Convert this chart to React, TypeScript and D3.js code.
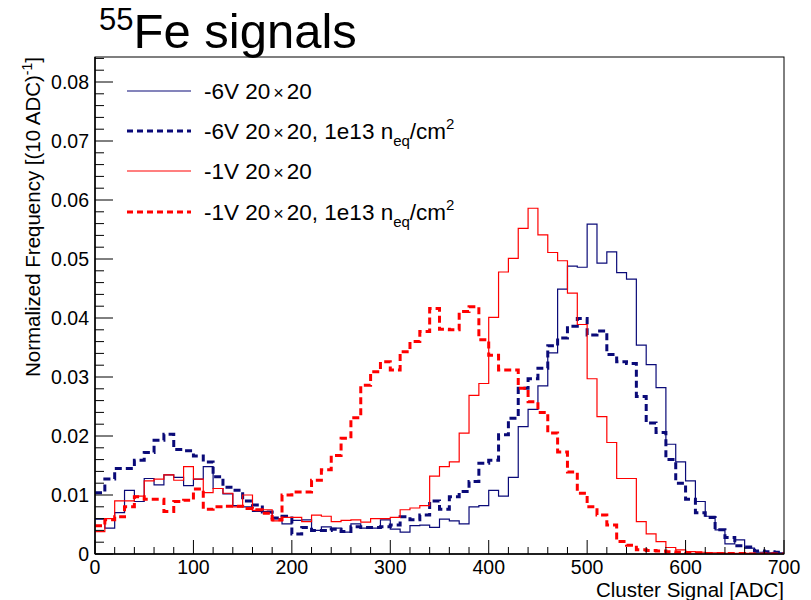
import React from "react";
import * as d3 from "d3";

// Bin lower edges (ADC), 10 ADC bins from 0 to 700
const binWidth = 10;
const binStarts = d3.range(0, 700, binWidth);

// -6V 20x20 (solid navy)
const s6V = [
  0.0059, 0.0044, 0.0070, 0.0108, 0.0089, 0.0128, 0.0117, 0.0134, 0.0130, 0.0116,
  0.0127, 0.0148, 0.0111, 0.0102, 0.0082, 0.0080, 0.0072, 0.0072, 0.0060, 0.0051,
  0.0057, 0.0058, 0.0040, 0.0046, 0.0044, 0.0037, 0.0051, 0.0044, 0.0044, 0.0058,
  0.0042, 0.0037, 0.0048, 0.0049, 0.0045, 0.0059, 0.0056, 0.0051, 0.0080, 0.0082,
  0.0108, 0.0098, 0.0130, 0.0216, 0.0245, 0.0285, 0.0341, 0.0449, 0.0488, 0.0486,
  0.0559, 0.0493, 0.0512, 0.0477, 0.0466, 0.0354, 0.0321, 0.0282, 0.0186, 0.0156,
  0.0124, 0.0089, 0.0064, 0.0041, 0.0017, 0.0024, 0.0010, 0.0003, 0.0002, 0.0002,
];

// -6V 20x20, 1e13 neq/cm2 (dashed navy)
const d6V = [
  0.0104, 0.0127, 0.0145, 0.0145, 0.0159, 0.0172, 0.0193, 0.0203, 0.0177, 0.0175,
  0.0166, 0.0156, 0.0131, 0.0113, 0.0108, 0.0090, 0.0083, 0.0071, 0.0061, 0.0064,
  0.0034, 0.0045, 0.0040, 0.0040, 0.0042, 0.0038, 0.0046, 0.0045, 0.0045, 0.0046,
  0.0049, 0.0063, 0.0058, 0.0066, 0.0090, 0.0076, 0.0097, 0.0106, 0.0123, 0.0154,
  0.0159, 0.0202, 0.0230, 0.0281, 0.0297, 0.0315, 0.0353, 0.0366, 0.0386, 0.0399,
  0.0371, 0.0378, 0.0338, 0.0326, 0.0323, 0.0267, 0.0222, 0.0206, 0.0160, 0.0120,
  0.0093, 0.0070, 0.0062, 0.0041, 0.0028, 0.0014, 0.0012, 0.0005, 0.0004, 0.0003,
];

// -1V 20x20 (solid red)
const s1V = [
  0.0038, 0.0060, 0.0090, 0.0090, 0.0098, 0.0124, 0.0127, 0.0134, 0.0125, 0.0148,
  0.0127, 0.0104, 0.0111, 0.0103, 0.0080, 0.0100, 0.0074, 0.0075, 0.0056, 0.0062,
  0.0062, 0.0055, 0.0066, 0.0064, 0.0055, 0.0057, 0.0058, 0.0054, 0.0060, 0.0060,
  0.0062, 0.0075, 0.0078, 0.0082, 0.0132, 0.0148, 0.0156, 0.0205, 0.0269, 0.0289,
  0.0401, 0.0478, 0.0501, 0.0552, 0.0586, 0.0541, 0.0511, 0.0497, 0.0442, 0.0389,
  0.0297, 0.0233, 0.0189, 0.0128, 0.0128, 0.0055, 0.0034, 0.0021, 0.0011, 0.0007,
  0.0004, 0.0003, 0.0002, 0.0002, 0.0001, 0.0001, 0.0001, 0.0000, 0.0001, 0.0000,
];

// -1V 20x20, 1e13 neq/cm2 (dashed red)
const d1V = [
  0.0048, 0.0058, 0.0063, 0.0080, 0.0097, 0.0093, 0.0093, 0.0072, 0.0089, 0.0091,
  0.0110, 0.0076, 0.0080, 0.0081, 0.0081, 0.0077, 0.0075, 0.0069, 0.0058, 0.0100,
  0.0105, 0.0105, 0.0125, 0.0143, 0.0167, 0.0196, 0.0231, 0.0286, 0.0309, 0.0326,
  0.0312, 0.0343, 0.0360, 0.0377, 0.0416, 0.0381, 0.0380, 0.0411, 0.0419, 0.0363,
  0.0337, 0.0312, 0.0312, 0.0281, 0.0258, 0.0240, 0.0205, 0.0173, 0.0139, 0.0103,
  0.0080, 0.0066, 0.0049, 0.0021, 0.0015, 0.0007, 0.0006, 0.0005, 0.0004, 0.0003,
  0.0002, 0.0002, 0.0001, 0.0001, 0.0001, 0.0001, 0.0000, 0.0000, 0.0000, 0.0000,
];

const xTickValues = [0, 100, 200, 300, 400, 500, 600, 700];
const xTickLabels = ["0", "100", "200", "300", "400", "500", "600", "700"];
const yTickValues = [0, 0.01, 0.02, 0.03, 0.04, 0.05, 0.06, 0.07, 0.08];
const yTickLabels = ["0", "0.01", "0.02", "0.03", "0.04", "0.05", "0.06", "0.07", "0.08"];

const NAVY = "#0a0a78";
const RED = "#ff0000";
const FONT = "'Liberation Sans', Arial, Helvetica, sans-serif";

const W = 811;
const H = 600;
const L = 95;
const R = 784;
const T = 57;
const B = 554;

export default function App() {
  const x = d3.scaleLinear().domain([0, 700]).range([L, R]);
  const y = d3.scaleLinear().domain([0, (B - T) / 5900]).range([B, T]);

  const line = d3
    .line<[number, number]>()
    .x((d) => x(d[0]))
    .y((d) => y(d[1]))
    .curve(d3.curveStepAfter);

  const pathFor = (vals: number[]) => {
    const pts: [number, number][] = binStarts.map((b, i) => [b, vals[i]]);
    pts.push([700, vals[vals.length - 1]]);
    return line(pts) || "";
  };

  const xMinor = d3.range(0, 701, 20).filter((v) => v % 100 !== 0);
  const yMinor = d3
    .range(0, 0.0842, 0.002)
    .filter((v) => Math.abs(v * 100 - Math.round(v * 100)) > 1e-6);

  const series = [
    { vals: s6V, color: NAVY, width: 1.2, dash: undefined as string | undefined },
    { vals: d6V, color: NAVY, width: 3, dash: "7 4" },
    { vals: s1V, color: RED, width: 1.2, dash: undefined as string | undefined },
    { vals: d1V, color: RED, width: 3, dash: "7 4" },
  ];

  const legend = [
    { color: NAVY, width: 1.2, dash: undefined as string | undefined, label: "-6V", irr: false, ly: 91 },
    { color: NAVY, width: 3, dash: "6 4", label: "-6V", irr: true, ly: 131 },
    { color: RED, width: 1.2, dash: undefined as string | undefined, label: "-1V", irr: false, ly: 171 },
    { color: RED, width: 3, dash: "6 4", label: "-1V", irr: true, ly: 212 },
  ];

  return (
    <svg
      width={W}
      height={H}
      style={{ position: "absolute", left: 0, top: 0, background: "#fff" }}
      fontFamily={FONT}
    >
      <rect x={0} y={0} width={W} height={H} fill="#fff" />
      <defs>
        <clipPath id="clipFrame">
          <rect x={L} y={T - 2} width={R - L} height={B - T + 2} />
        </clipPath>
      </defs>

      {/* Title */}
      <text x={99} y={48} fontSize={49} fill="#000">
        <tspan fontSize={31} dy={-18}>55</tspan>
        <tspan dy={18}>Fe signals</tspan>
      </text>

      {/* Frame */}
      <rect x={L} y={T} width={R - L} height={B - T} fill="none" stroke="#000" strokeWidth={1} />

      {/* Histograms */}
      <g clipPath="url(#clipFrame)">
        {series.map((s, i) => (
          <path
            key={i}
            d={pathFor(s.vals)}
            fill="none"
            stroke={s.color}
            strokeWidth={s.width}
            strokeDasharray={s.dash}
          />
        ))}
      </g>

      {/* Axes lines */}
      <line x1={L} y1={B} x2={R} y2={B} stroke="#000" strokeWidth={1.5} />
      <line x1={L} y1={T} x2={L} y2={B} stroke="#000" strokeWidth={1.5} />

      {/* X ticks */}
      {xTickValues.map((v) => (
        <line key={"xt" + v} x1={x(v)} x2={x(v)} y1={B} y2={B - 14} stroke="#000" strokeWidth={1} />
      ))}
      {xMinor.map((v) => (
        <line key={"xm" + v} x1={x(v)} x2={x(v)} y1={B} y2={B - 7} stroke="#000" strokeWidth={1} />
      ))}
      {xTickValues.map((v, i) => (
        <text key={"xl" + v} x={x(v)} y={574} fontSize={19.5} textAnchor="middle" fill="#000">
          {xTickLabels[i]}
        </text>
      ))}

      {/* Y ticks */}
      {yTickValues.map((v) => (
        <line key={"yt" + v} x1={L} x2={L + 18} y1={y(v)} y2={y(v)} stroke="#000" strokeWidth={1} />
      ))}
      {yMinor.map((v) => (
        <line key={"ym" + v} x1={L} x2={L + 9} y1={y(v)} y2={y(v)} stroke="#000" strokeWidth={1} />
      ))}
      {yTickValues.map((v, i) => (
        <text key={"yl" + v} x={89} y={y(v) + 7} fontSize={19.5} textAnchor="end" fill="#000">
          {yTickLabels[i]}
        </text>
      ))}

      {/* Axis titles */}
      <text x={R} y={597} fontSize={20.5} textAnchor="end" fill="#000">
        Cluster Signal [ADC]
      </text>
      <text transform={`translate(40,${T}) rotate(-90)`} fontSize={20.5} textAnchor="end" fill="#000">
        Normalized Frequency [(10 ADC)
        <tspan fontSize={14} dy={-8}>-1</tspan>
        <tspan dy={8}>]</tspan>
      </text>

      {/* Legend */}
      {legend.map((e, i) => (
        <g key={"lg" + i}>
          <line
            x1={127}
            x2={191}
            y1={e.ly}
            y2={e.ly}
            stroke={e.color}
            strokeWidth={e.width}
            strokeDasharray={e.dash}
          />
          <text x={204} y={e.ly + 8} fontSize={22.5} fill="#000">
            {e.label} 20
            <tspan dx={3} fontSize={18}>×</tspan>
            <tspan dx={3} fontSize={22.5}>20</tspan>
            {e.irr ? (
              <>
                <tspan>, 1e13 n</tspan>
                <tspan fontSize={15} dy={7}>eq</tspan>
                <tspan fontSize={22.5} dy={-7}>/cm</tspan>
                <tspan fontSize={15} dy={-10}>2</tspan>
              </>
            ) : null}
          </text>
        </g>
      ))}
    </svg>
  );
}
